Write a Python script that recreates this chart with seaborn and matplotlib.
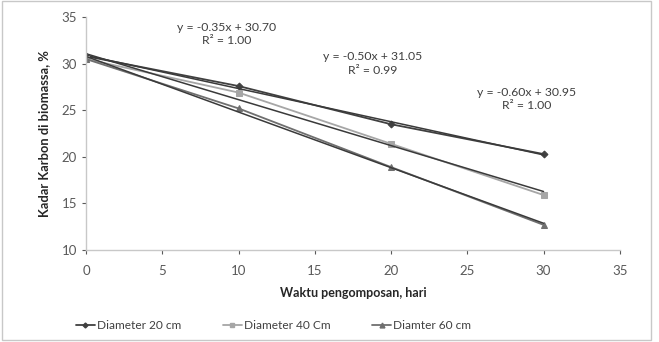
import numpy as np
import pandas as pd
import matplotlib
matplotlib.use("Agg")
import matplotlib.pyplot as plt
import seaborn as sns

days = [0, 10, 20, 30]
d20 = [30.8, 27.6, 23.5, 20.3]
d40 = [30.5, 26.9, 21.4, 15.9]
d60 = [30.5, 25.2, 18.9, 12.7]
series_names = ["Diameter 20 cm", "Diameter 40 Cm", "Diamter 60 cm"]
equations = ["y = -0.35x + 30.70\nR\u00b2 = 1.00",
             "y = -0.50x + 31.05\nR\u00b2 = 0.99",
             "y = -0.60x + 30.95\nR\u00b2 = 1.00"]
eq_pos = [(9.2, 33.2), (18.8, 30.0), (28.9, 26.2)]

sns.set_theme(style="white")
plt.rcParams['font.family'] = ['Lato', 'DejaVu Sans']

df = pd.DataFrame({
    "day": days * 3,
    "carbon": d20 + d40 + d60,
    "series": [series_names[0]] * 4 + [series_names[1]] * 4 + [series_names[2]] * 4,
})

fig = plt.figure(figsize=(6.59, 3.42), dpi=100)
ax = fig.add_axes([0.1305, 0.269, 0.810, 0.681])

colors = ["#404040", "#a6a6a6", "#6f6f6f"]
markers = ["D", "s", "^"]
msizes = [3.5, 4.5, 4.5]

for name, c, m, ms in zip(series_names, colors, markers, msizes):
    sub = df[df.series == name]
    sns.lineplot(data=sub, x="day", y="carbon", ax=ax, color=c, marker=m,
                 markersize=ms, markeredgecolor=c, linewidth=1.3, label=name,
                 legend=False)
    sns.regplot(data=sub, x="day", y="carbon", ax=ax, scatter=False, ci=None,
                color="#3a3a3a", line_kws={"linewidth": 1.1}, truncate=True)

for txt, (x, y) in zip(equations, eq_pos):
    ax.text(x, y, txt, ha="center", va="center", fontsize=8.8, color="#404040",
            linespacing=1.3)

ax.set_xlim(0, 35)
ax.set_ylim(10, 35)
ax.set_xticks(range(0, 36, 5))
ax.set_yticks(range(10, 36, 5))
ax.tick_params(axis="both", labelsize=9.5, colors="#595959", length=3,
               direction="out", bottom=True, left=True, width=0.8)
ax.tick_params(axis="x", pad=8)
for s in ["top", "right"]:
    ax.spines[s].set_visible(False)
for s in ["left", "bottom"]:
    ax.spines[s].set_color("#c8c8c8")
    ax.spines[s].set_linewidth(1.0)
ax.set_xlabel("Waktu pengomposan, hari", fontsize=9.0, fontweight="bold",
              color="#262626", labelpad=7)
ax.set_ylabel("Kadar Karbon di biomassa, %", fontsize=9.3, fontweight="bold",
              color="#262626", labelpad=8)

handles = [plt.Line2D([], [], color=c, marker=m, markersize=ms - 1, linewidth=1.3)
           for c, m, ms in zip(colors, markers, msizes)]
fig.legend(handles, series_names, loc="center", bbox_to_anchor=(0.415, 0.047),
           ncol=3, frameon=False, fontsize=8.6, handlelength=1.6,
           handletextpad=0.15, columnspacing=3.5, labelcolor="#404040")

border = plt.Rectangle((0.003, 0.006), 0.985, 0.99, transform=fig.transFigure,
                       fill=False, edgecolor="#c8c8c8", linewidth=1.0)
fig.patches.append(border)

fig.savefig("out.png", dpi=100)
